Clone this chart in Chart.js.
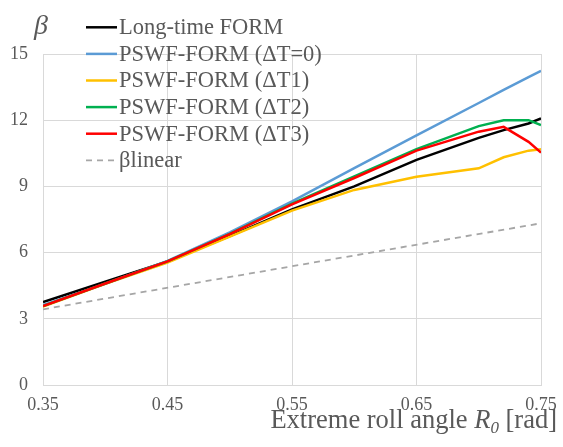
<!DOCTYPE html>
<html>
<head>
<meta charset="utf-8">
<script src="https://cdn.jsdelivr.net/npm/chart.js@4/dist/chart.umd.min.js"></script>
<style>
  html, body { margin: 0; padding: 0; background: #fff; }
  #wrap { width: 563px; height: 447px; }
</style>
</head>
<body>
<div id="wrap"><canvas id="chart" width="563" height="447"></canvas></div>
<script>
// данные
const rollAngle = [0.35, 0.40, 0.45, 0.50, 0.55, 0.60, 0.65, 0.70, 0.72, 0.74, 0.75];
const longTimeForm = [3.76, 4.68, 5.60, 6.75, 7.96, 9.00, 10.20, 11.20, 11.55, 11.85, 12.08];
const pswfT0 = [3.62, 4.58, 5.62, 6.92, 8.32, 9.83, 11.31, 12.78, 13.37, 13.95, 14.24];
const pswfT1 = [3.55, 4.58, 5.55, 6.72, 7.90, 8.84, 9.44, 9.82, 10.32, 10.62, 10.68];
const pswfT2 = [3.58, 4.60, 5.60, 6.85, 8.22, 9.45, 10.69, 11.73, 12.00, 12.00, 11.78];
const pswfT3 = [3.58, 4.60, 5.60, 6.84, 8.19, 9.38, 10.62, 11.48, 11.70, 11.02, 10.53];
const linearAngle = [0.35, 0.75];
const betaLinear = [3.43, 7.33];
const xTicks = [0.35, 0.45, 0.55, 0.65, 0.75];
const yTicks = [0, 3, 6, 9, 12, 15];

const labels = ['Long-time FORM', 'PSWF-FORM (\u0394T=0)', 'PSWF-FORM (\u0394T1)', 'PSWF-FORM (\u0394T2)', 'PSWF-FORM (\u0394T3)', '\u03B2linear'];
const colors = ['#000000', '#5B9BD5', '#FFC000', '#00B050', '#FF0000', '#A6A6A6'];
const series = [longTimeForm, pswfT0, pswfT1, pswfT2, pswfT3, betaLinear];

const textColor = '#595959';
const serif = 'Liberation Serif';

function toPoints(xs, values) {
    return values.map((v, i) => ({ x: xs[i], y: v }));
}

const datasets = series.map((s, i) => ({
    label: labels[i],
    data: toPoints(i === 5 ? linearAngle : rollAngle, s),
    borderColor: colors[i],
    backgroundColor: colors[i],
    borderWidth: i === 5 ? 1.8 : 2.5,
    borderDash: i === 5 ? [6, 5] : [],
    pointRadius: 0,
    tension: 0,
    fill: false
})).reverse(); // порядок отрисовки как в Excel: первая серия сверху

// своя легенда и подписи осей
const extras = {
    id: 'extras',
    afterDraw(chart) {
        const ctx = chart.ctx;
        ctx.save();
        // легенда
        ctx.font = '22.5px "' + serif + '"';
        ctx.textBaseline = 'middle';
        ctx.textAlign = 'left';
        labels.forEach((lab, i) => {
            const y = 27.3 + i * 26.6;
            ctx.strokeStyle = colors[i];
            ctx.lineWidth = i === 5 ? 1.8 : 2.5;
            ctx.setLineDash(i === 5 ? [6, 5] : []);
            ctx.beginPath();
            ctx.moveTo(86, y);
            ctx.lineTo(117, y);
            ctx.stroke();
            ctx.fillStyle = textColor;
            ctx.fillText(lab, 119, y + 1);
        });
        ctx.setLineDash([]);
        // β
        ctx.font = 'italic 28px "' + serif + '"';
        ctx.fillStyle = textColor;
        ctx.textAlign = 'center';
        ctx.fillText('\u03B2', 41, 27);
        // подпись оси X
        const yb = 428;
        ctx.textBaseline = 'alphabetic';
        ctx.textAlign = 'left';
        const p1 = 'Extreme roll angle ';
        const p4 = ' [rad]';
        const reg = '26.5px "' + serif + '"';
        const ital = 'italic 26.5px "' + serif + '"';
        const sub = 'italic 17px "' + serif + '"';
        ctx.font = reg;
        const w1 = ctx.measureText(p1).width;
        const w4 = ctx.measureText(p4).width;
        ctx.font = ital;
        const w2 = ctx.measureText('R').width;
        ctx.font = sub;
        const w3 = ctx.measureText('0').width;
        let x = 557 - (w1 + w2 + w3 + w4);
        ctx.font = reg;
        ctx.fillText(p1, x, yb); x += w1;
        ctx.font = ital;
        ctx.fillText('R', x, yb); x += w2;
        ctx.font = sub;
        ctx.fillText('0', x, yb + 5); x += w3;
        ctx.font = reg;
        ctx.fillText(p4, x, yb);
        ctx.restore();
    }
};

function draw() {
    new Chart(document.getElementById('chart'), {
        type: 'line',
        data: { datasets: datasets },
        options: {
            responsive: false,
            animation: false,
            layout: { padding: { left: 0, right: 22, top: 54, bottom: 0 } },
            plugins: {
                legend: { display: false },
                tooltip: { enabled: false }
            },
            scales: {
                x: {
                    type: 'linear',
                    min: 0.35,
                    max: 0.75,
                    afterBuildTicks: (scale) => { scale.ticks = xTicks.map(v => ({ value: v })); },
                    afterFit: (scale) => {
                        scale.height = 62;
                        scale.paddingLeft = 0;
                        scale.paddingRight = 0;
                    },
                    grid: { color: '#D9D9D9', lineWidth: 1, drawTicks: false },
                    border: { color: '#D9D9D9' },
                    ticks: {
                        padding: 9,
                        maxRotation: 0,
                        color: textColor,
                        font: { family: serif, size: 18 },
                        callback: (v) => Number(v).toFixed(2)
                    }
                },
                y: {
                    min: 0,
                    max: 15,
                    afterBuildTicks: (scale) => { scale.ticks = yTicks.map(v => ({ value: v })); },
                    afterFit: (scale) => { scale.width = 43; },
                    grid: { color: '#D9D9D9', lineWidth: 1, drawTicks: false },
                    border: { color: '#D9D9D9' },
                    ticks: {
                        padding: 15,
                        color: textColor,
                        font: { family: serif, size: 18 }
                    }
                }
            }
        },
        plugins: [extras]
    });
}

// ждём шрифт, иначе canvas берёт запасной
Promise.all([
    document.fonts.load('22px "' + serif + '"'),
    document.fonts.load('italic 22px "' + serif + '"')
]).then(draw, draw);
</script>
</body>
</html>
